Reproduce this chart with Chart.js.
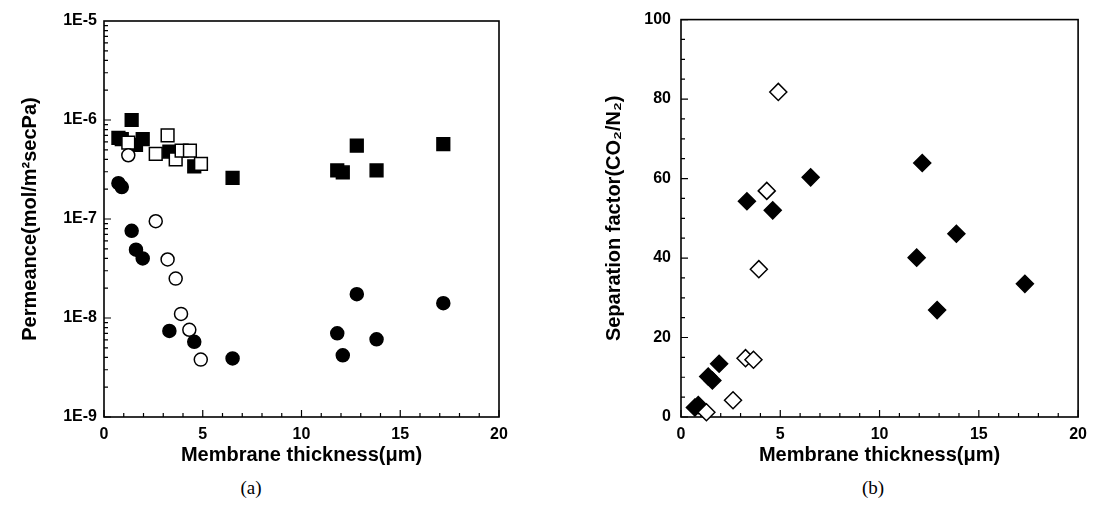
<!DOCTYPE html>
<html>
<head>
<meta charset="utf-8">
<script src="https://cdn.jsdelivr.net/npm/chart.js@4/dist/chart.umd.min.js"></script>
<style>
  body { margin: 0; width: 1095px; height: 517px; background: #fff; position: relative; overflow: hidden; }
  canvas { position: absolute; top: 0; }
  .cap { position: absolute; top: 477px; transform: translateX(-50%); font: 19px "Liberation Serif", "Times New Roman", serif; color: #000; line-height: 22px; }
</style>
</head>
<body>
<canvas id="chartA" width="548" height="470" style="left:0"></canvas>
<canvas id="chartB" width="547" height="470" style="left:548px"></canvas>
<div class="cap" style="left:251px">(a)</div>
<div class="cap" style="left:873px">(b)</div>
<script>
// (a) permeance vs thickness
const sqFilledX = [0.73, 0.9, 1.40, 1.62, 1.96, 3.31, 4.57, 6.51, 11.81, 12.09, 12.8, 13.8, 17.18];
const sqFilledY = [6.6e-7, 6.4e-7, 1.0e-6, 5.6e-7, 6.4e-7, 4.8e-7, 3.4e-7, 2.6e-7, 3.1e-7, 2.95e-7, 5.5e-7, 3.1e-7, 5.7e-7];
const sqOpenX = [1.23, 2.62, 3.22, 3.63, 3.93, 4.35, 4.91];
const sqOpenY = [5.9e-7, 4.55e-7, 7.0e-7, 4.0e-7, 4.9e-7, 4.9e-7, 3.6e-7];
const ciFilledX = [0.73, 0.9, 1.40, 1.62, 1.96, 3.31, 4.57, 6.51, 11.81, 12.09, 12.8, 13.8, 17.18];
const ciFilledY = [2.3e-7, 2.1e-7, 7.6e-8, 4.9e-8, 4.0e-8, 7.4e-9, 5.75e-9, 3.9e-9, 7.0e-9, 4.2e-9, 1.74e-8, 6.1e-9, 1.41e-8];
const ciOpenX = [1.23, 2.62, 3.22, 3.63, 3.90, 4.32, 4.90];
const ciOpenY = [4.4e-7, 9.5e-8, 3.9e-8, 2.5e-8, 1.1e-8, 7.6e-9, 3.8e-9];
const decades = [1e-9, 1e-8, 1e-7, 1e-6, 1e-5];

// (b) separation factor vs thickness
const diFilledX = [0.70, 0.87, 1.37, 1.58, 1.92, 3.32, 4.62, 6.53, 11.87, 12.15, 12.9, 13.87, 17.32];
const diFilledY = [2.4, 3.0, 10.2, 9.2, 13.4, 54.3, 52.0, 60.3, 40.1, 63.9, 26.9, 46.1, 33.5];
const diOpenX = [1.28, 2.62, 3.25, 3.65, 3.92, 4.32, 4.90];
const diOpenY = [1.2, 4.2, 14.8, 14.4, 37.2, 56.9, 81.8];

const xTitle = "Membrane thickness(\u03bcm)";
const yTitleA = "Permeance(mol/m\u00b2secPa)";
const yTitleB = "Separation factor(CO\u2082/N\u2082)";

const tickFont = { family: "'Liberation Sans', Arial, sans-serif", size: 16, weight: "bold" };
const titleFont = { family: "'Liberation Sans', Arial, sans-serif", size: 20, weight: "bold" };

function pts(xs, ys) {
    return xs.map((x, i) => ({ x: x, y: ys[i] }));
}

function marker(data, style, radius, filled) {
    return {
        data: data,
        showLine: false,
        pointStyle: style,
        pointRadius: radius,
        pointBorderWidth: 1.5,
        pointBorderColor: "#000",
        pointBackgroundColor: filled ? "#000" : "#fff",
        clip: false
    };
}

// frame + inward tick marks
const boxTicks = {
    id: "boxTicks",
    beforeDatasetsDraw(chart, args, opts) {
        const { ctx, chartArea: a, scales } = chart;
        ctx.save();
        ctx.strokeStyle = "#000";
        ctx.lineWidth = 1.6;
        ctx.strokeRect(a.left, a.top, a.right - a.left, a.bottom - a.top);
        ctx.lineWidth = 1.2;
        ctx.beginPath();
        opts.xTicks.forEach(t => {
            let px = scales.x.getPixelForValue(t[0]);
            ctx.moveTo(px, a.bottom);
            ctx.lineTo(px, a.bottom - t[1]);
        });
        opts.yTicks.forEach(t => {
            let py = scales.y.getPixelForValue(t[0]);
            ctx.moveTo(a.left, py);
            ctx.lineTo(a.left + t[1], py);
        });
        ctx.stroke();
        ctx.restore();
    }
};

let xTicks = [];
for (let v = 0; v <= 20; v++) xTicks.push([v, v % 5 === 0 ? 7 : 4]);

let logTicks = [];
for (let e = -9; e < -5; e++) {
    for (let m = 1; m <= 9; m++) logTicks.push([m * Math.pow(10, e), m === 1 ? 7 : 4]);
}

let linTicks = [];
for (let v = 0; v <= 100; v += 5) linTicks.push([v, v % 20 === 0 ? 7 : 4]);

function xScale() {
    return {
        type: "linear", min: 0, max: 20,
        afterFit: s => { s.height = 53; },
        grid: { display: false, drawTicks: false },
        border: { display: false },
        ticks: { stepSize: 5, font: tickFont, color: "#000", padding: 8, maxRotation: 0 },
        title: { display: true, text: xTitle, font: titleFont, color: "#000", padding: { top: 0, bottom: 3 } }
    };
}

new Chart(document.getElementById("chartA"), {
    type: "scatter",
    data: {
        datasets: [
            marker(pts(ciOpenX, ciOpenY), "circle", 6.5, false),
            marker(pts(sqOpenX, sqOpenY), "rect", 9, false),
            marker(pts(ciFilledX, ciFilledY), "circle", 6.5, true),
            marker(pts(sqFilledX, sqFilledY), "rect", 9, true)
        ]
    },
    options: {
        responsive: false,
        animation: false,
        layout: { padding: { top: 21, right: 49, left: 0, bottom: 0 } },
        plugins: {
            legend: { display: false },
            tooltip: { enabled: false },
            boxTicks: { xTicks: xTicks, yTicks: logTicks }
        },
        scales: {
            x: xScale(),
            y: {
                type: "logarithmic", min: 1e-9, max: 1e-5,
                afterFit: s => { s.width = 104; },
                afterBuildTicks: s => { s.ticks = decades.map(v => ({ value: v })); },
                grid: { display: false, drawTicks: false },
                border: { display: false },
                ticks: {
                    font: tickFont, color: "#000", padding: 7,
                    callback: v => "1E" + Math.round(Math.log10(v))
                },
                title: { display: true, text: yTitleA, font: titleFont, color: "#000", padding: { top: 18, bottom: 0 } }
            }
        }
    },
    plugins: [boxTicks]
});

new Chart(document.getElementById("chartB"), {
    type: "scatter",
    data: {
        datasets: [
            marker(pts(diOpenX, diOpenY), "rectRot", 8.5, false),
            marker(pts(diFilledX, diFilledY), "rectRot", 8.5, true)
        ]
    },
    options: {
        responsive: false,
        animation: false,
        layout: { padding: { top: 16, right: 13, left: 0, bottom: 0 } },
        plugins: {
            legend: { display: false },
            tooltip: { enabled: false },
            boxTicks: { xTicks: xTicks, yTicks: linTicks }
        },
        scales: {
            x: xScale(),
            y: {
                type: "linear", min: 0, max: 100,
                afterFit: s => { s.width = 133; },
                grid: { display: false, drawTicks: false },
                border: { display: false },
                ticks: { stepSize: 20, font: tickFont, color: "#000", padding: 10 },
                title: { display: true, text: yTitleB, font: titleFont, color: "#000", padding: { top: 54, bottom: 0 } }
            }
        }
    },
    plugins: [boxTicks]
});
</script>
</body>
</html>
